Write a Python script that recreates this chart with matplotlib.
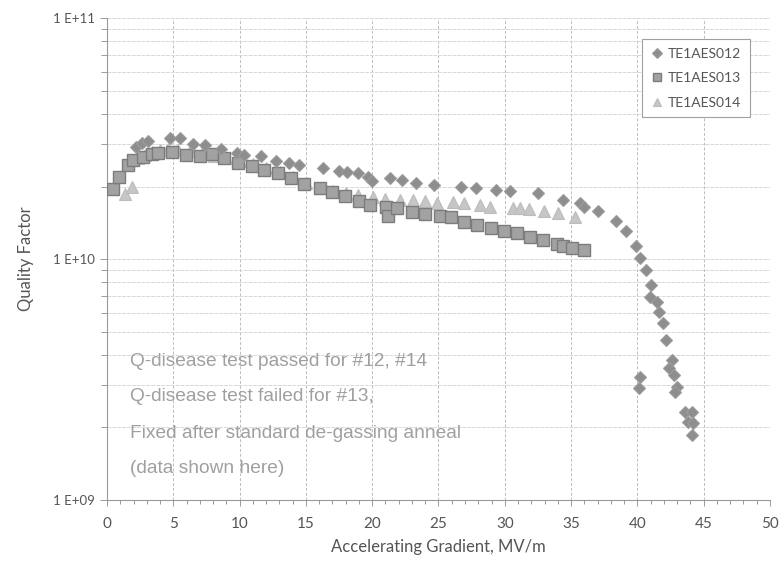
import matplotlib
matplotlib.use("Agg")
import matplotlib.pyplot as plt
from matplotlib.ticker import FixedLocator, MultipleLocator, LogLocator, NullFormatter

# TE1AES012 (diamonds)
g012 = [2.19, 2.64, 3.09, 4.75, 5.51, 6.49, 7.39, 8.60, 9.80, 10.33, 11.61, 12.75, 13.73, 14.48,
        16.29, 17.50, 18.10, 18.93, 19.68, 19.98, 21.34, 22.25, 23.30, 24.66, 26.70, 27.83, 29.34,
        30.39, 32.50, 34.39, 35.67, 35.97, 37.03, 38.39, 39.14, 39.89, 40.20, 40.65, 41.03, 40.95,
        41.48, 41.63, 41.93, 42.16, 42.61, 42.38, 42.76, 42.99, 42.84, 40.20, 40.12, 43.59, 44.12,
        43.82, 44.19, 44.12]
q012 = [2.92e10, 3.03e10, 3.09e10, 3.18e10, 3.18e10, 3.00e10, 2.97e10, 2.86e10, 2.75e10, 2.70e10,
        2.68e10, 2.55e10, 2.50e10, 2.45e10, 2.39e10, 2.32e10, 2.30e10, 2.27e10, 2.19e10, 2.11e10,
        2.17e10, 2.13e10, 2.07e10, 2.03e10, 1.99e10, 1.97e10, 1.93e10, 1.92e10, 1.88e10, 1.76e10,
        1.71e10, 1.64e10, 1.58e10, 1.44e10, 1.31e10, 1.13e10, 1.01e10, 9.0e9, 7.8e9, 6.95e9,
        6.63e9, 6.03e9, 5.42e9, 4.61e9, 3.81e9, 3.53e9, 3.30e9, 2.94e9, 2.81e9, 3.24e9, 2.92e9,
        2.32e9, 2.32e9, 2.11e9, 2.09e9, 1.86e9]

# TE1AES013 (squares)
g013 = [0.45, 0.90, 1.58, 1.96, 2.71, 3.39, 3.85, 4.90, 5.96, 7.01, 7.92, 8.82, 9.88, 10.93, 11.84,
        12.90, 13.88, 14.86, 16.06, 16.97, 17.95, 19.00, 19.83, 21.04, 21.19, 21.87, 23.00, 23.98,
        25.11, 25.94, 26.92, 27.90, 28.96, 29.94, 30.92, 31.90, 32.88, 33.94, 34.39, 35.07, 35.97]
q013 = [1.95e10, 2.19e10, 2.45e10, 2.58e10, 2.65e10, 2.73e10, 2.75e10, 2.78e10, 2.70e10, 2.68e10,
        2.73e10, 2.62e10, 2.50e10, 2.43e10, 2.34e10, 2.27e10, 2.17e10, 2.05e10, 1.97e10, 1.90e10,
        1.83e10, 1.74e10, 1.68e10, 1.64e10, 1.51e10, 1.63e10, 1.57e10, 1.54e10, 1.51e10, 1.49e10,
        1.42e10, 1.38e10, 1.35e10, 1.31e10, 1.28e10, 1.23e10, 1.20e10, 1.16e10, 1.13e10, 1.11e10,
        1.09e10]

# TE1AES014 (triangles)
g014 = [1.36, 1.89, 2.34, 2.87, 3.39, 4.00, 4.60, 5.35, 6.26, 7.16, 8.07, 8.97, 10.03, 11.01, 11.99,
        13.05, 14.03, 15.01, 16.06, 17.04, 18.02, 18.93, 20.06, 20.97, 22.10, 23.08, 23.98, 24.89,
        26.09, 26.92, 28.13, 28.88, 30.62, 31.15, 31.83, 32.96, 34.01, 35.29]
q014 = [1.86e10, 1.99e10, 2.62e10, 2.70e10, 2.78e10, 2.83e10, 2.86e10, 2.83e10, 2.81e10, 2.75e10,
        2.68e10, 2.62e10, 2.55e10, 2.48e10, 2.39e10, 2.30e10, 2.19e10, 2.07e10, 1.97e10, 1.92e10,
        1.88e10, 1.84e10, 1.81e10, 1.77e10, 1.76e10, 1.76e10, 1.74e10, 1.71e10, 1.72e10, 1.71e10,
        1.68e10, 1.64e10, 1.63e10, 1.63e10, 1.61e10, 1.58e10, 1.55e10, 1.49e10]

notes = ["Q-disease test passed for #12, #14",
         "Q-disease test failed for #13,",
         "Fixed after standard de-gassing anneal",
         "(data shown here)"]

plt.rcParams['font.family'] = ['Lato', 'DejaVu Sans']

fig = plt.figure(figsize=(7.84, 5.65), dpi=100)
ax = fig.add_axes([0.1365, 0.115, 0.8456, 0.853])

ax.plot(g014, q014, linestyle='none', marker='^', ms=8.5, mfc='#c6c6c6', mec='#bcbcbc',
        mew=0.8, label='TE1AES014', zorder=3)
ax.plot(g013, q013, linestyle='none', marker='s', ms=8, mfc='#a2a2a2', mec='#7c7c7c',
        mew=1.0, label='TE1AES013', zorder=4)
ax.plot(g012, q012, linestyle='none', marker='D', ms=6.5, mfc='#8e8e8e', mec='#9c9c9c',
        mew=0.8, label='TE1AES012', zorder=5)

ax.set_yscale('log')
ax.set_xlim(0, 50)
ax.set_ylim(1e9, 1e11)

ax.xaxis.set_major_locator(MultipleLocator(5))
ax.xaxis.set_minor_locator(MultipleLocator(1))
ax.yaxis.set_major_locator(FixedLocator([1e9, 1e10, 1e11]))
ax.set_yticklabels(['1 E+09', '1 E+10', '1 E+11'])
ax.yaxis.set_minor_locator(LogLocator(base=10, subs=range(2, 10)))
ax.yaxis.set_minor_formatter(NullFormatter())

ax.grid(True, axis='x', which='major', color='#bcbcbc', linestyle=(0, (3, 2)), linewidth=0.7)
ax.grid(True, axis='y', which='both', color='#d8d8d8', linestyle=(0, (4, 1)), linewidth=0.7)

for s in ['top', 'right']:
    ax.spines[s].set_visible(False)
for s in ['left', 'bottom']:
    ax.spines[s].set_color('#9a9a9a')
    ax.spines[s].set_linewidth(0.8)

ax.tick_params(axis='both', which='both', direction='out', color='#9a9a9a', width=0.7)
ax.tick_params(axis='x', which='major', length=4, labelsize=11, labelcolor='#555555', pad=8)
ax.tick_params(axis='x', which='minor', length=3)
ax.tick_params(axis='y', which='major', length=5, labelsize=9.5, labelcolor='#555555')
ax.tick_params(axis='y', which='minor', length=4)

ax.set_xlabel('Accelerating Gradient, MV/m', fontsize=12, color='#555555', labelpad=6)
ax.set_ylabel('Quality Factor', fontsize=12, color='#555555', labelpad=14)

handles, labels = ax.get_legend_handles_labels()
leg = ax.legend(handles[::-1], labels[::-1], loc='upper right', bbox_to_anchor=(0.98, 0.97),
                fontsize=10, markerscale=0.75, handletextpad=0.3, handlelength=1.0,
                borderpad=0.6, labelspacing=0.9, fancybox=False, framealpha=1)
leg.get_frame().set_edgecolor('#a0a0a0')
leg.get_frame().set_linewidth(0.8)
for t in leg.get_texts():
    t.set_color('#555555')

ys = [0.288, 0.214, 0.139, 0.066]
for line, y in zip(notes, ys):
    ax.text(0.035, y, line, transform=ax.transAxes, fontsize=13.8, color='#a0a0a0',
            family=['Liberation Sans', 'DejaVu Sans'], va='center', ha='left')

fig.savefig('out.png', dpi=100)
